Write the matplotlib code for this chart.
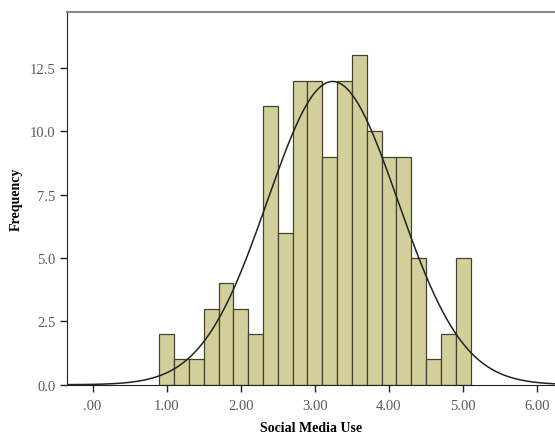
import numpy as np
import matplotlib
matplotlib.use("Agg")
import matplotlib.pyplot as plt

# histogram bins (width 0.2) and counts
bin_edges = [0.9, 1.1, 1.3, 1.5, 1.7, 1.9, 2.1, 2.3, 2.5, 2.7, 2.9, 3.1,
             3.3, 3.5, 3.7, 3.9, 4.1, 4.3, 4.5, 4.7, 4.9, 5.1]
counts = [2, 1, 1, 3, 4, 3, 2, 11, 6, 12, 12, 9, 12, 13, 10, 9, 9, 5, 1, 2, 5]

# normal curve parameters
mean_val = 3.24
std_val = 0.88

xticks = [0, 1, 2, 3, 4, 5, 6]
xtick_labels = [".00", "1.00", "2.00", "3.00", "4.00", "5.00", "6.00"]
yticks = [0.0, 2.5, 5.0, 7.5, 10.0, 12.5]

plt.rcParams['font.family'] = ['Liberation Serif', 'DejaVu Serif']

fig = plt.figure(figsize=(5.55, 4.35), dpi=100)
ax = fig.add_axes([0.1213, 0.1133, 0.8787, 0.8575])

edges = np.array(bin_edges)
widths = np.diff(edges)
ax.bar(edges[:-1], counts, width=widths, align='edge',
       color='#d3cf9b', edgecolor='#45432f', linewidth=0.9)

n = sum(counts)
bw = widths[0]
xs = np.linspace(-0.4, 6.3, 400)
ys = n * bw / (std_val * np.sqrt(2 * np.pi)) * np.exp(-0.5 * ((xs - mean_val) / std_val) ** 2)
ax.plot(xs, ys, color='#222222', linewidth=1.1)

ax.set_xlim(-0.34, 6.24)
ax.set_ylim(0, 14.72)
ax.set_xticks(xticks)
ax.set_xticklabels(xtick_labels)
ax.set_yticks(yticks)
ax.set_yticklabels([f"{v:.1f}" for v in yticks])

ax.tick_params(axis='both', direction='out', length=5, width=1.0,
               colors='#222222', labelcolor='#5a5a5a', labelsize=10.5)
ax.tick_params(axis='x', pad=5)
ax.spines['right'].set_visible(False)
ax.spines['top'].set_color('#888888')
ax.spines['top'].set_linewidth(1.5)
ax.spines['left'].set_color('#222222')
ax.spines['bottom'].set_color('#222222')

ax.set_xlabel("Social Media Use", fontweight='bold', fontsize=10, labelpad=7)
ax.set_ylabel("Frequency", fontweight='bold', fontsize=10, labelpad=5)

fig.savefig("out.png", dpi=100)
